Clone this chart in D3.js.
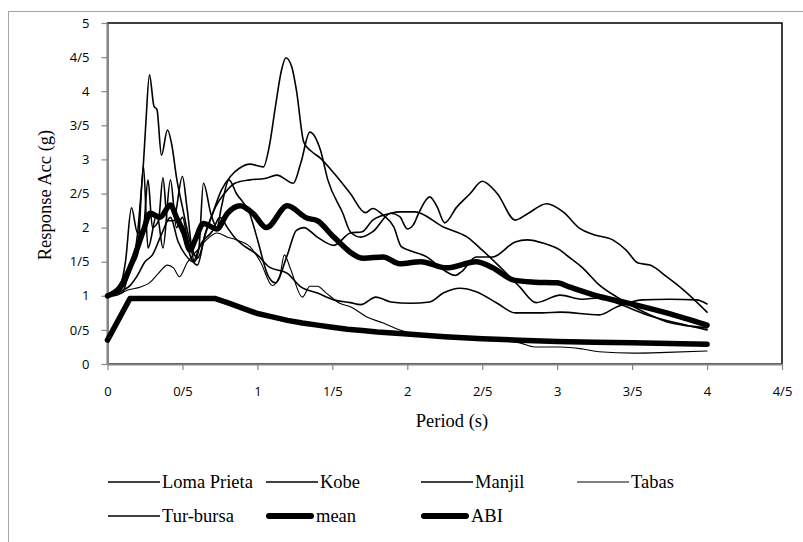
<!DOCTYPE html>
<html>
<head>
<meta charset="utf-8">
<script src="https://cdn.jsdelivr.net/npm/d3@7/dist/d3.min.js"></script>
<style>
  body { margin: 0; background: #fff; }
  svg { display: block; }
</style>
</head>
<body>
<svg id="chart" width="803" height="542"></svg>
<script>
// Axis ticks (decimal separator written as "/")
const xTicks = [0, 0.5, 1, 1.5, 2, 2.5, 3, 3.5, 4, 4.5];
const xTickLabels = ["0", "0/5", "1", "1/5", "2", "2/5", "3", "3/5", "4", "4/5"];
const yTicks = [0, 0.5, 1, 1.5, 2, 2.5, 3, 3.5, 4, 4.5, 5];
const yTickLabels = ["0", "0/5", "1", "1/5", "2", "2/5", "3", "3/5", "4", "4/5", "5"];

// Response spectra: [period (s), spectral acceleration (g)]
const lomaPrieta = [[0,1.0],[0.05,1.02],[0.1,1.12],[0.15,1.35],[0.2,1.9],[0.22,2.4],[0.24,2.95],[0.255,3.5],[0.28,4.24],[0.31,3.78],[0.33,3.73],[0.36,3.06],[0.4,3.43],[0.43,3.2],[0.46,2.74],[0.5,2.3],[0.55,1.8],[0.6,1.55],[0.66,1.95],[0.72,2.3],[0.78,2.5],[0.85,2.65],[0.95,2.7],[1.05,2.72],[1.13,2.77],[1.24,2.65],[1.29,2.95],[1.35,3.4],[1.42,3.14],[1.47,2.7],[1.57,2.21],[1.62,1.94],[1.69,1.86],[1.77,1.94],[1.89,2.21],[1.95,2.16],[2.0,1.98],[2.04,2.04],[2.08,2.23],[2.15,2.45],[2.2,2.3],[2.25,2.07],[2.33,2.3],[2.42,2.5],[2.5,2.68],[2.6,2.5],[2.72,2.11],[2.8,2.2],[2.93,2.35],[3.04,2.23],[3.15,1.99],[3.24,1.9],[3.37,1.82],[3.46,1.67],[3.54,1.48],[3.62,1.45],[3.73,1.28],[3.84,1.09],[4.0,0.76]];

const kobe = [[0,1.0],[0.05,1.02],[0.1,1.05],[0.15,1.4],[0.2,1.6],[0.24,2.9],[0.27,1.7],[0.33,2.2],[0.37,1.7],[0.42,2.7],[0.46,2.0],[0.5,2.15],[0.55,1.6],[0.6,1.45],[0.65,1.9],[0.7,2.2],[0.76,2.55],[0.82,2.75],[0.88,2.87],[0.95,2.93],[1.04,2.89],[1.08,3.2],[1.12,3.77],[1.16,4.3],[1.19,4.49],[1.23,4.35],[1.26,4.02],[1.31,3.25],[1.36,3.12],[1.42,3.02],[1.51,2.8],[1.62,2.5],[1.72,2.22],[1.77,2.28],[1.84,2.18],[1.91,2.01],[1.96,1.72],[2.02,1.66],[2.13,1.57],[2.24,1.38],[2.32,1.3],[2.36,1.35],[2.46,1.57],[2.57,1.57],[2.72,1.79],[2.8,1.82],[2.91,1.77],[3.02,1.67],[3.06,1.6],[3.17,1.41],[3.28,1.16],[3.4,0.98],[3.51,0.84],[3.62,0.72],[3.73,0.62],[3.84,0.57],[4.0,0.53]];

const manjil = [[0,1.0],[0.04,1.0],[0.08,1.1],[0.12,1.5],[0.16,2.29],[0.2,1.92],[0.24,2.0],[0.27,2.7],[0.3,2.0],[0.34,2.1],[0.37,2.73],[0.4,2.1],[0.44,2.1],[0.5,2.75],[0.53,2.3],[0.58,1.5],[0.61,1.7],[0.64,2.65],[0.69,2.2],[0.73,2.0],[0.76,2.3],[0.81,2.7],[0.86,2.5],[0.95,2.2],[1.0,1.83],[1.07,1.3],[1.12,1.19],[1.2,1.6],[1.26,1.96],[1.31,2.0],[1.4,1.86],[1.51,1.74],[1.62,1.92],[1.7,1.94],[1.77,2.11],[1.89,2.21],[1.95,2.23],[2.05,2.23],[2.24,2.01],[2.4,1.86],[2.5,1.67],[2.62,1.42],[2.75,1.13],[2.86,0.9],[3.02,1.01],[3.17,0.95],[3.28,0.97],[3.4,0.89],[3.6,0.72],[3.8,0.6],[4.0,0.5]];

const tabas = [[0,1.0],[0.05,1.0],[0.13,1.08],[0.22,1.13],[0.28,1.19],[0.34,1.33],[0.4,1.45],[0.44,1.41],[0.48,1.28],[0.53,1.48],[0.6,1.67],[0.66,1.82],[0.73,1.92],[0.8,1.86],[0.86,1.82],[0.95,1.72],[1.02,1.5],[1.1,1.15],[1.15,1.3],[1.18,1.6],[1.22,1.4],[1.3,0.98],[1.35,1.14],[1.4,1.14],[1.46,1.04],[1.55,0.89],[1.62,0.84],[1.73,0.69],[1.84,0.6],[1.95,0.5],[2.17,0.4],[2.5,0.36],[2.75,0.31],[2.85,0.25],[3.02,0.25],[3.17,0.22],[3.28,0.18],[3.51,0.16],[3.73,0.17],[4.0,0.19]];

const turBursa = [[0,1.0],[0.05,1.02],[0.1,1.08],[0.15,1.15],[0.2,1.3],[0.25,1.5],[0.3,1.6],[0.36,1.9],[0.42,2.15],[0.47,1.8],[0.52,1.6],[0.57,1.5],[0.62,1.75],[0.7,1.95],[0.75,2.15],[0.8,2.0],[0.85,1.85],[0.9,1.75],[1.0,1.6],[1.08,1.42],[1.2,1.33],[1.29,1.13],[1.4,1.04],[1.51,0.94],[1.62,0.9],[1.69,0.87],[1.79,0.98],[1.89,0.91],[2.02,0.89],[2.15,0.91],[2.24,1.04],[2.35,1.11],[2.46,1.06],[2.6,0.89],[2.72,0.75],[2.9,0.75],[3.02,0.76],[3.28,0.72],[3.4,0.84],[3.57,0.94],[3.75,0.95],[3.93,0.94],[4.0,0.88]];

const meanSpectrum = [[0,1.0],[0.085,1.13],[0.17,1.52],[0.24,1.96],[0.285,2.21],[0.35,2.15],[0.42,2.33],[0.46,2.15],[0.51,1.92],[0.55,1.67],[0.585,1.82],[0.64,2.06],[0.73,1.98],[0.8,2.21],[0.885,2.32],[0.97,2.21],[1.06,2.0],[1.2,2.32],[1.33,2.14],[1.4,2.1],[1.51,1.86],[1.71,1.55],[1.84,1.57],[1.95,1.47],[2.09,1.5],[2.26,1.41],[2.46,1.5],[2.57,1.41],[2.71,1.23],[2.85,1.2],[3.0,1.19],[3.08,1.13],[3.28,0.99],[3.48,0.89],[3.73,0.75],[4.0,0.57]];

const abiSpectrum = [[0,0.35],[0.15,0.96],[0.72,0.96],[0.76,0.93],[0.8,0.9],[0.85,0.86],[0.9,0.82],[0.95,0.78],[1.0,0.74],[1.1,0.69],[1.2,0.64],[1.3,0.6],[1.4,0.57],[1.5,0.54],[1.6,0.51],[1.7,0.49],[1.8,0.47],[2.0,0.44],[2.25,0.40],[2.5,0.37],[2.75,0.35],[3.0,0.33],[3.25,0.32],[3.5,0.31],[3.75,0.30],[4.0,0.29]];

const seriesNames = ["Loma Prieta", "Kobe", "Manjil", "Tabas", "Tur-bursa", "mean", "ABI"];
const seriesData = [lomaPrieta, kobe, manjil, tabas, turBursa, meanSpectrum, abiSpectrum];
const seriesWidth = [1.6, 1.6, 1.6, 1.1, 1.6, 5.5, 5.5];

const svg = d3.select("#chart");
const plotLeft = 107.5, plotRight = 782, plotTop = 23, plotBottom = 364;

const x = d3.scaleLinear().domain([0, 4.5]).range([plotLeft, plotRight]);
const y = d3.scaleLinear().domain([0, 5]).range([plotBottom, plotTop]);

// chart area border
svg.append("rect")
  .attr("x", 8.5).attr("y", 11.5)
  .attr("width", 820).attr("height", 560)
  .attr("fill", "#fff").attr("stroke", "#a6a6a6").attr("stroke-width", 1);

// plot area frame
svg.append("rect")
  .attr("x", plotLeft).attr("y", plotTop)
  .attr("width", plotRight - plotLeft).attr("height", plotBottom - plotTop)
  .attr("fill", "none").attr("stroke", "#000").attr("stroke-width", 1.5);

// axes
const xAxis = d3.axisBottom(x)
  .tickValues(xTicks)
  .tickFormat((d, i) => xTickLabels[i])
  .tickSize(6).tickSizeOuter(0).tickPadding(17);
const yAxis = d3.axisLeft(y)
  .tickValues(yTicks)
  .tickFormat((d, i) => yTickLabels[i])
  .tickSize(6).tickSizeOuter(0).tickPadding(12);

const gx = svg.append("g").attr("transform", `translate(0,${plotBottom})`).call(xAxis);
const gy = svg.append("g").attr("transform", `translate(${plotLeft},0)`).call(yAxis);

[gx, gy].forEach(g => {
  g.select(".domain").attr("stroke", "#868686").attr("stroke-width", 2);
  g.selectAll(".tick line").attr("stroke", "#868686").attr("stroke-width", 1.2);
  g.selectAll(".tick text")
    .attr("fill", "#000")
    .style("font-family", "'Open Sans', sans-serif")
    .style("font-size", "13px");
});

// spectra: recorded motions and mean are smoothed, the code spectrum is piecewise
const smoothLine = d3.line()
  .x(d => x(d[0]))
  .y(d => y(d[1]))
  .curve(d3.curveMonotoneX);
const straightLine = d3.line()
  .x(d => x(d[0]))
  .y(d => y(d[1]));

svg.append("g").selectAll("path")
  .data(seriesData)
  .join("path")
  .attr("d", d => (d === abiSpectrum ? straightLine(d) : smoothLine(d)))
  .attr("fill", "none")
  .attr("stroke", "#000")
  .attr("stroke-width", (d, i) => seriesWidth[i])
  .attr("stroke-linejoin", "round")
  .attr("stroke-linecap", "round");

// axis titles
svg.append("text")
  .attr("x", 452).attr("y", 427)
  .attr("text-anchor", "middle")
  .style("font-family", "'Liberation Serif', 'Times New Roman', serif")
  .style("font-size", "18.5px")
  .text("Period (s)");

svg.append("text")
  .attr("transform", "translate(51,195) rotate(-90)")
  .attr("text-anchor", "middle")
  .style("font-family", "'Liberation Serif', 'Times New Roman', serif")
  .style("font-size", "18.5px")
  .text("Response Acc (g)");

// legend
const legendX = [108, 266, 421, 577, 108, 266, 421];
const legendY = [482, 482, 482, 482, 516, 516, 516];
const legendLen = [52, 52, 52, 52, 52, 48, 48];

const legend = svg.append("g");
seriesNames.forEach((name, i) => {
  const thick = seriesWidth[i] > 3;
  legend.append("line")
    .attr("x1", legendX[i] + (thick ? 3 : 0))
    .attr("x2", legendX[i] + legendLen[i] - (thick ? 3 : 0))
    .attr("y1", legendY[i]).attr("y2", legendY[i])
    .attr("stroke", "#000")
    .attr("stroke-width", thick ? 6 : seriesWidth[i])
    .attr("stroke-linecap", thick ? "round" : "butt");
  legend.append("text")
    .attr("x", legendX[i] + legendLen[i] + 2)
    .attr("y", legendY[i])
    .attr("dy", "0.33em")
    .style("font-family", "'Liberation Serif', 'Times New Roman', serif")
    .style("font-size", "18.5px")
    .text(name);
});
</script>
</body>
</html>
